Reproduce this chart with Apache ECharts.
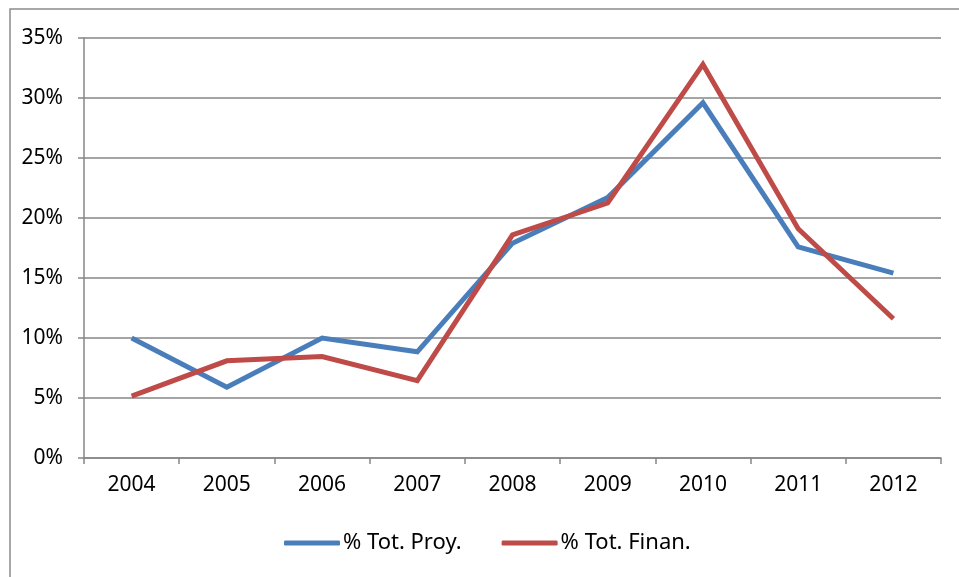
<!DOCTYPE html>
<html>
<head>
<meta charset="utf-8">
<script src="https://cdn.jsdelivr.net/npm/echarts@6/dist/echarts.min.js"></script>
<style>
  html, body { margin: 0; padding: 0; background: #fff; }
  #chart { width: 959px; height: 577px; }
</style>
</head>
<body>
<div id="chart"></div>
<script>
const years = ['2004', '2005', '2006', '2007', '2008', '2009', '2010', '2011', '2012'];
const totProy = [10.0, 5.9, 10.0, 8.85, 17.9, 21.7, 29.6, 17.6, 15.4];
const totFinan = [5.15, 8.1, 8.45, 6.45, 18.6, 21.25, 32.8, 19.1, 11.6];

(function () {
  const myChart = echarts.init(document.getElementById('chart'));
  const gridColor = '#868686';

  const option = {
    color: ['#4a7ebb', '#be4b48'],
    animation: false,
    // marco exterior del gráfico
    graphic: [
      {
        type: 'rect',
        shape: { x: 10, y: 9, width: 960, height: 580 },
        style: { fill: 'none', stroke: '#8c8c8c', lineWidth: 1.5 },
      },
    ],
    grid: {
      left: 84,
      right: 18,
      top: 38,
      bottom: 119,
    },
    legend: {
      top: 532,
      left: 284,
      padding: 0,
      itemWidth: 56,
      itemHeight: 5,
      itemGap: 40,
      icon: 'roundRect',
      textStyle: {
        color: '#000',
        fontSize: 22,
        fontFamily: 'Noto Sans',
        padding: [0, 0, 0, -2],
      },
    },
    xAxis: {
      type: 'category',
      data: years,
      boundaryGap: true,
      axisLine: { lineStyle: { color: gridColor, width: 1.5 } },
      axisTick: { show: true, length: 6, lineStyle: { color: gridColor, width: 1.5 } },
      axisLabel: {
        color: '#000',
        fontSize: 21,
        fontFamily: 'Noto Sans',
        margin: 17,
      },
    },
    yAxis: {
      type: 'value',
      min: 0,
      max: 35,
      interval: 5,
      axisLine: { show: true, lineStyle: { color: gridColor, width: 1.5 } },
      axisTick: { show: true, length: 6, lineStyle: { color: gridColor, width: 1.5 } },
      axisLabel: {
        color: '#000',
        fontSize: 21,
        fontFamily: 'Noto Sans',
        margin: 21,
        formatter: '{value}%',
      },
      splitLine: { lineStyle: { color: gridColor, width: 1.5 } },
    },
    series: [
      {
        name: '% Tot. Proy.',
        type: 'line',
        data: totProy,
        symbol: 'none',
        lineStyle: { width: 5, join: 'miter' },
      },
      {
        name: '% Tot. Finan.',
        type: 'line',
        data: totFinan,
        symbol: 'none',
        lineStyle: { width: 5, join: 'miter' },
      },
    ],
  };

  myChart.setOption(option);

  window.addEventListener('resize', () => {
    myChart.resize();
  });
})();
</script>
</body>
</html>
